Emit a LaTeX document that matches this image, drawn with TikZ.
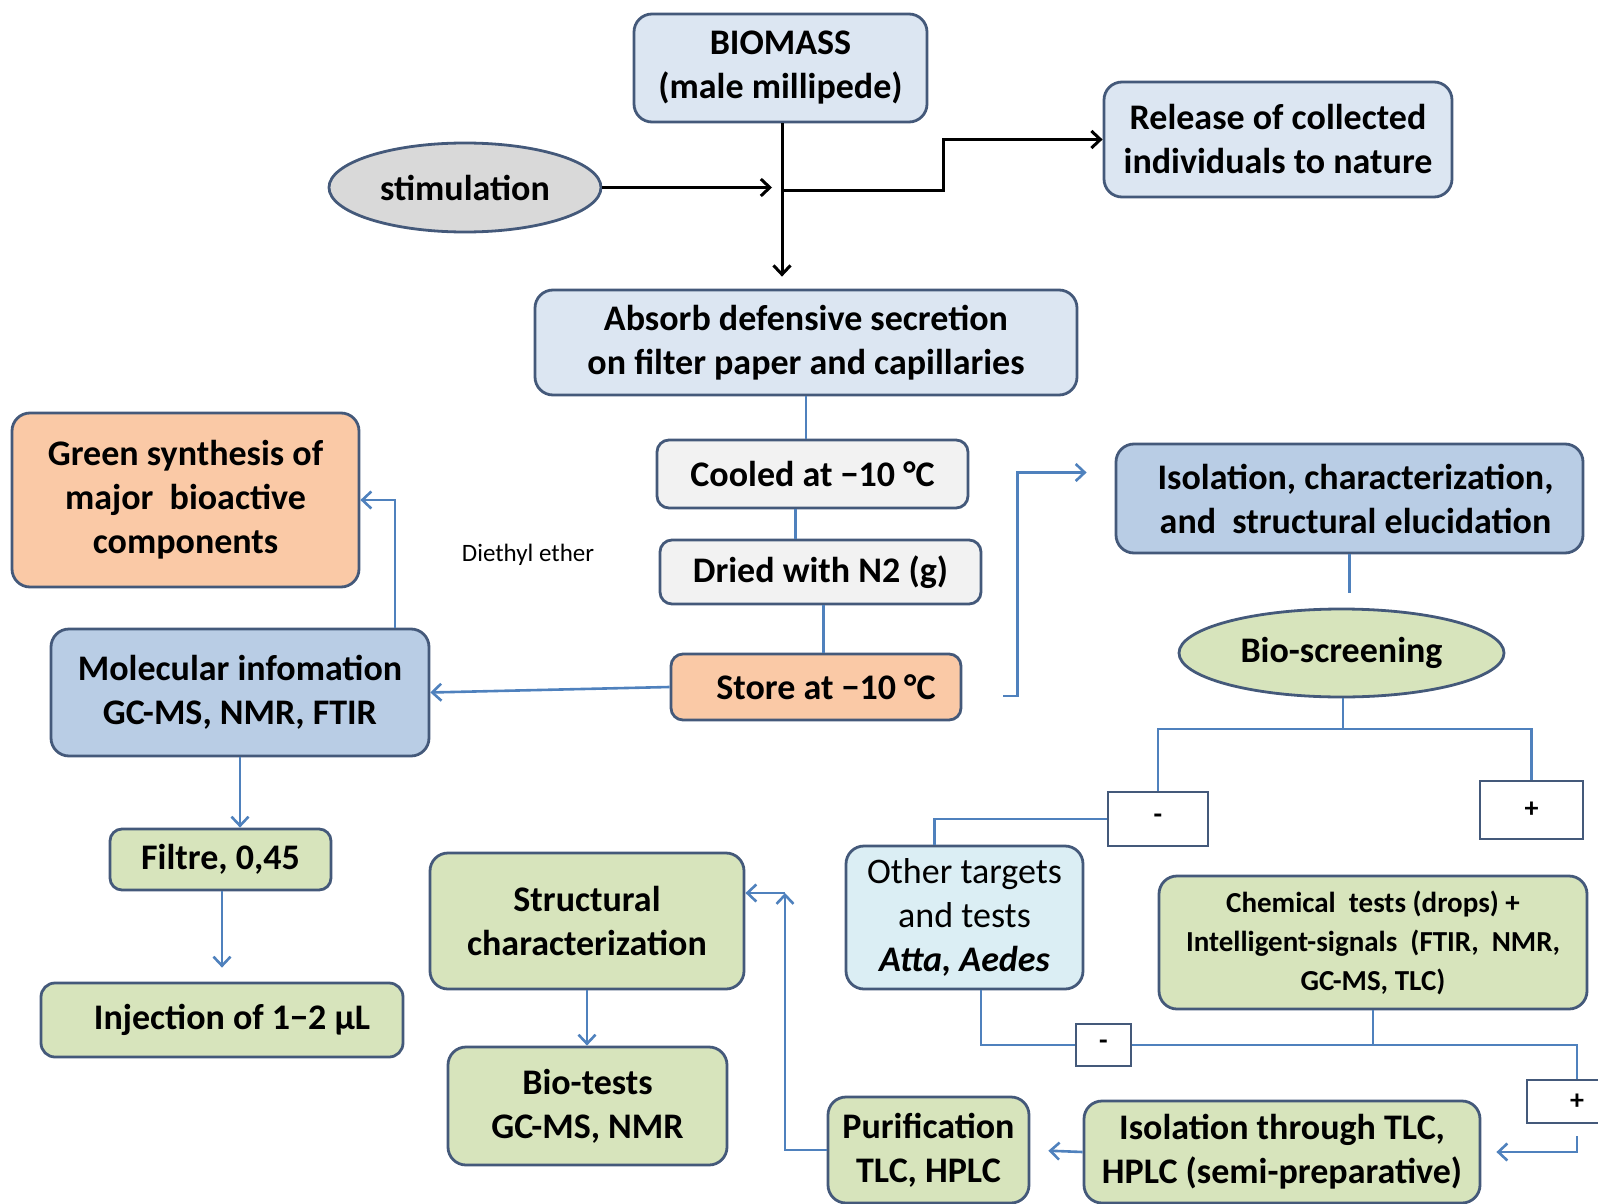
\documentclass[tikz,border=0pt]{standalone}
\usepackage{fontspec}
\setmainfont{Carlito}
\usetikzlibrary{arrows.meta,shapes.geometric,calc}
\definecolor{bord}{HTML}{44597A}
\definecolor{lblue}{HTML}{DCE6F2}
\definecolor{lgray}{HTML}{F2F2F2}
\definecolor{peach}{HTML}{FAC9A6}
\definecolor{mblue}{HTML}{B9CDE5}
\definecolor{lgreen}{HTML}{D7E4BC}
\definecolor{sgray}{HTML}{D9D9D9}
\definecolor{lcyan}{HTML}{DBEEF4}
\definecolor{lineblue}{HTML}{4F81BD}
\begin{document}
\begin{tikzpicture}[x=1pt,y=-1pt,
  box/.style={draw=bord, line width=2.8pt, rounded corners=18pt, align=center, inner sep=0pt,
    font={\fontsize{36}{44}\selectfont\bfseries}},
  ell/.style={ellipse, draw=bord, line width=2.8pt, align=center, inner sep=0pt,
    font={\fontsize{36}{44}\selectfont\bfseries}},
  sign/.style={draw=bord, line width=2.4pt, fill=white, inner sep=0pt,
    font={\fontsize{28}{32}\selectfont\bfseries}},
  blk/.style={draw=black, line width=3pt},
  blu/.style={draw=lineblue, line width=2.6pt},
  tip/.style={-{Straight Barb[length=9pt,width=17pt]}}
]
\useasboundingbox (0,0) rectangle (1598,1204);
\clip (0,0) rectangle (1598,1204);

% nodes
\node[box, fill=lblue, minimum width=293pt, minimum height=108pt] (bio) at (780.5,68) {BIOMASS\\(male millipede)};
\node[ell, fill=sgray, minimum width=272pt, minimum height=89pt] (stim) at (465,187.5) {stimulation};
\node[box, fill=lblue, minimum width=348pt, minimum height=115pt] (release) at (1278,139.5) {Release of collected\\individuals to nature};
\node[box, fill=lblue, minimum width=542pt, minimum height=105pt] (absorb) at (806,342.5) {Absorb defensive secretion\\on filter paper and capillaries};
\node[box, fill=lgray, rounded corners=12pt, minimum width=311pt, minimum height=68pt] (cooled) at (812.5,474) {Cooled at −10 °C};
\node[box, fill=lgray, rounded corners=12pt, minimum width=321pt, minimum height=64pt] (dried) at (820.5,572) {Dried with N2 (g)};
\node[box, fill=peach, rounded corners=12pt, minimum width=290pt, minimum height=66pt] (store) at (816,687) {\hspace*{20pt}Store at −10 °C};
\node[box, fill=peach, minimum width=347pt, minimum height=174pt] (green) at (185.5,500) {Green synthesis of\\major\ \ bioactive\\components};
\node[box, fill=mblue, minimum width=378pt, minimum height=127pt] (molec) at (240,692.5) {Molecular infomation\\GC-MS, NMR, FTIR};
\node[font={\fontsize{25}{30}\selectfont}] (diethyl) at (528,555) {Diethyl ether};
\node[box, fill=mblue, minimum width=467pt, minimum height=109pt] (isol) at (1349.5,498.5) {\hspace*{12pt}Isolation, characterization,\\\hspace*{12pt}and\ \ structural elucidation};
\node[ell, fill=lgreen, minimum width=325pt, minimum height=88pt] (bios) at (1341.5,653) {Bio-screening};
\node[sign, minimum width=100pt, minimum height=54pt] (minus1) at (1158,819) {-};
\node[sign, minimum width=103pt, minimum height=58pt] (plus1) at (1531.5,810) {+};
\node[box, fill=lcyan, minimum width=237pt, minimum height=143pt] (other) at (964.5,917.5) {\mdseries Other targets\\\mdseries and tests\\\itshape Atta, Aedes};
\node[box, fill=lgreen, minimum width=428pt, minimum height=133pt, font={\fontsize{29}{39}\selectfont\bfseries}] (chem) at (1373,942.5) {Chemical\ \ tests (drops) +\\Intelligent-signals\ \ (FTIR,\ \ NMR,\\GC-MS, TLC)};
\node[sign, minimum width=55pt, minimum height=42pt] (minus2) at (1103.5,1045) {-};
\node[sign, minimum width=100pt, minimum height=43pt] (plus2) at (1577,1101.5) {+};
\node[box, fill=lgreen, minimum width=396pt, minimum height=102pt] (isotlc) at (1282,1152) {Isolation through TLC,\\HPLC (semi-preparative)};
\node[box, fill=lgreen, minimum width=201pt, minimum height=106pt] (purif) at (928.5,1150) {Purification\\TLC, HPLC};
\node[box, fill=lgreen, minimum width=314pt, minimum height=136pt] (struct) at (587,921) {Structural\\characterization};
\node[box, fill=lgreen, minimum width=279pt, minimum height=118pt] (biotests) at (587.5,1106) {Bio-tests\\GC-MS, NMR};
\node[box, fill=lgreen, rounded corners=12pt, minimum width=221pt, minimum height=61pt] (filtre) at (220.5,859.5) {Filtre, 0,45};
\node[box, fill=lgreen, rounded corners=14pt, minimum width=362pt, minimum height=74pt] (inject) at (222,1020) {\hspace*{20pt}Injection of 1−2 μL};

% black connectors
\coordinate (j1) at (782,190);
\draw[blk, tip, shorten >=12pt] (bio.south -| j1) -- (j1 |- absorb.north);
\draw[blk, tip, shorten >=10pt] (stim.east) -- (j1 |- stim.east);
\draw[blk, tip] (j1) -- (943,190) |- (release.west);

% blue connectors
\draw[blu] (absorb.south) -- (absorb.south |- cooled.north);
\draw[blu] ([xshift=-17pt]cooled.south) -- ([xshift=-17pt]cooled.south |- dried.north);
\draw[blu] ([xshift=3pt]dried.south) -- ([xshift=3pt]dried.south |- store.north);
\draw[blu, tip] (store.west) -- (molec.east);
\draw[blu, tip] ([xshift=155pt]molec.north) |- (green.east);
\draw[blu, tip] (molec.south) -- (molec.south |- filtre.north);
\draw[blu, tip, shorten >=14pt] ([xshift=1.5pt]filtre.south) -- ([xshift=1.5pt]filtre.south |- inject.north);
\draw[blu, tip] (struct.south) -- (struct.south |- biotests.north);
\draw[blu, tip] ($(store.east)+(41,9)$) -- ++(14,0) |- ($(isol.west)+(-28,-26)$);
\draw[blu, shorten >=15pt] (isol.south) -- (isol.south |- bios.north);
\coordinate (bj) at (1343,729);
\draw[blu] (bios.south -| bj) -- (bj);
\draw[blu] (minus1.north) |- (bj) -| (plus1.north);
\draw[blu] (minus1.west) -| ([xshift=-30pt]other.north);
\draw[blu] ([xshift=16.5pt]other.south) |- (minus2.west);
\draw[blu] (minus2.east) -| (plus2.north);
\draw[blu] (chem.south) -- (chem.south |- minus2.east);
\draw[blu, tip, shorten <=12pt] (plus2.south) |- ([xshift=15pt]isotlc.east);
\draw[blu, tip, shorten >=18pt] (isotlc.west) -- (purif.east);
\coordinate (pc) at (785,893);
\draw[blu, tip] (purif.west) -| (pc);
\draw[blu, tip] (pc) -- (pc -| struct.east);
\end{tikzpicture}
\end{document}
